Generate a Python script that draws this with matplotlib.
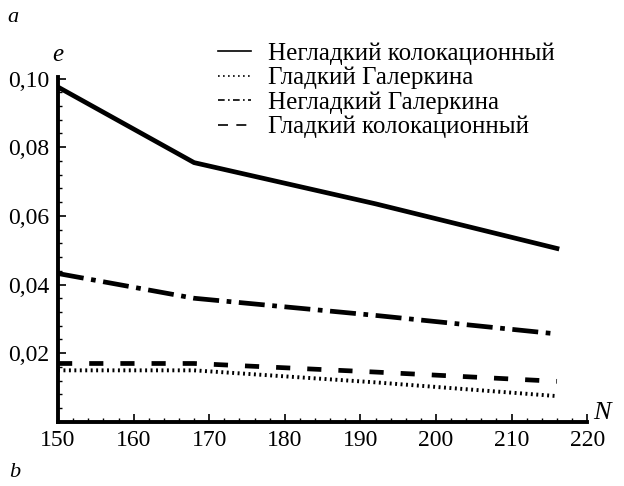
import matplotlib
matplotlib.use("Agg")
import matplotlib.pyplot as plt
from matplotlib.lines import Line2D
from matplotlib.ticker import MultipleLocator, FuncFormatter

# число узлов N и погрешности e для четырёх методов
N = [150, 168, 192, 216]
nonsmooth_colloc = [0.0975, 0.0755, 0.0635, 0.0505]
smooth_galerkin = [0.0150, 0.0150, 0.0115, 0.0075]
nonsmooth_galerkin = [0.0432, 0.0360, 0.0310, 0.0256]
smooth_colloc = [0.0170, 0.0170, 0.0145, 0.0118]

labels = ["Негладкий колокационный", "Гладкий Галеркина",
          "Негладкий Галеркина", "Гладкий колокационный"]

plt.rcParams['font.family'] = ['Liberation Serif', 'DejaVu Serif']

fig = plt.figure(figsize=(6.24, 4.86), dpi=100)
ax = fig.add_axes([0.093, 0.132, 0.848, 0.71])

styles = [dict(lw=3.4, ls='-'),
          dict(lw=2.8, dashes=(0.5, 0.9)),
          dict(lw=3.4, dashes=(5.5, 1.6, 1.0, 1.6)),
          dict(lw=3.4, dashes=(3.0, 3.6))]
series = [nonsmooth_colloc, smooth_galerkin, nonsmooth_galerkin, smooth_colloc]
for vals, st in zip(series, styles):
    ax.plot(N, vals, color='black', **st)

ax.set_xlim(150, 220)
ax.set_ylim(0, 0.1005)
ax.xaxis.set_major_locator(MultipleLocator(10))
ax.xaxis.set_minor_locator(MultipleLocator(2))
ax.yaxis.set_major_locator(MultipleLocator(0.02))
ax.yaxis.set_minor_locator(MultipleLocator(0.004))
ax.yaxis.set_major_formatter(FuncFormatter(lambda v, p: f"{v:.2f}".replace('.', ',') if v > 0 else ""))

for s in ['top', 'right']:
    ax.spines[s].set_visible(False)
for s in ['left', 'bottom']:
    ax.spines[s].set_linewidth(2.8)

ax.tick_params(which='major', direction='in', length=6, width=1.2, labelsize=17)
ax.tick_params(which='minor', direction='in', length=3, width=1.0)
ax.tick_params(axis='y', pad=6)
ax.tick_params(axis='x', pad=6)

ax.text(0.0, 1.045, "e", transform=ax.transAxes, fontsize=18, style='italic', ha='center')
ax.text(1.012, -0.005, "N", transform=ax.transAxes, fontsize=19, style='italic', ha='left', va='bottom')
fig.text(0.012, 0.955, "a", fontsize=16, style='italic')
fig.text(0.015, 0.018, "b", fontsize=16, style='italic')

# тонкие линии в легенде
handles = [Line2D([], [], color='black', lw=1.2, ls='-'),
           Line2D([], [], color='black', lw=1.2, dashes=(1, 2)),
           Line2D([], [], color='black', lw=1.2, dashes=(4, 2, 1, 2)),
           Line2D([], [], color='black', lw=1.2, dashes=(6, 5))]
ax.legend(handles, labels, loc='upper right', bbox_to_anchor=(0.982, 1.165), frameon=False,
          fontsize=18, handlelength=1.3, handletextpad=0.7, labelspacing=0.08)

fig.savefig("out.png", dpi=100)
